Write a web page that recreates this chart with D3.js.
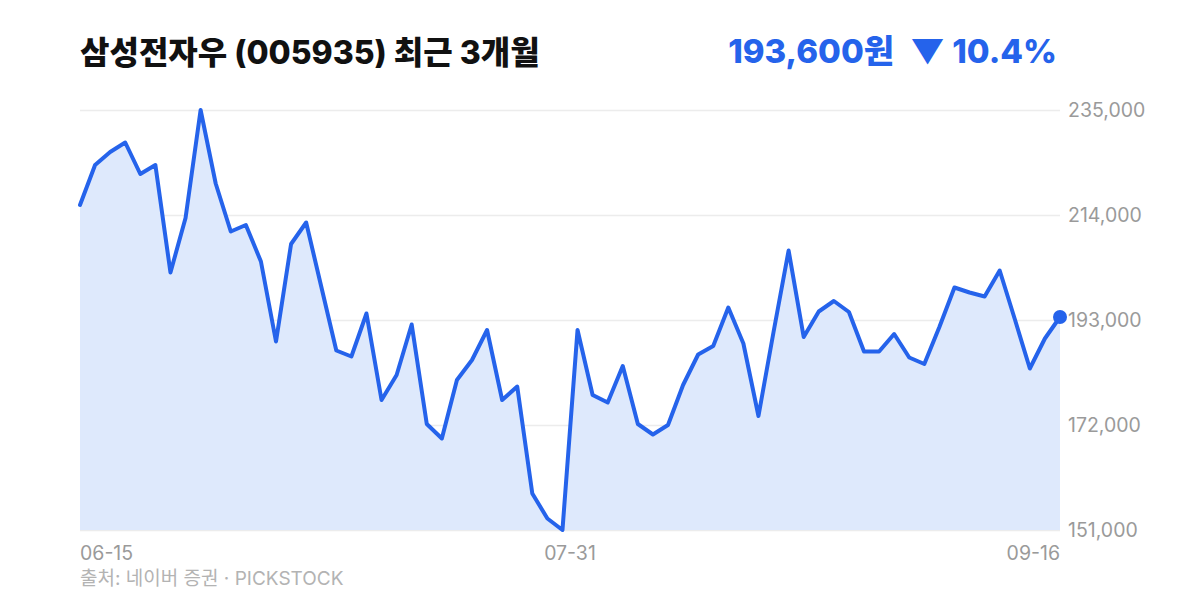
<!DOCTYPE html>
<html>
<head>
<meta charset="utf-8">
<script src="https://cdn.jsdelivr.net/npm/d3@7"></script>
<style>
  body { margin: 0; background: #fff; }
</style>
</head>
<body>
<svg id="chart" width="1200" height="600"></svg>
<script>
// 종가 (원), 06-15 ~ 09-16 거래일
const prices = [
  216000, 224000, 226600, 228500, 222200, 224000, 202500, 213400, 235000, 220300,
  210700, 212000, 204700, 188700, 208200, 212500, 199700, 186900, 185700, 194300,
  177000, 182000, 192100, 172200, 169300, 181000, 185000, 191000, 177000, 179700,
  158300, 153300, 151000, 191000, 178000, 176500, 183800, 172200, 170100, 172000,
  180000, 186100, 187800, 195500, 188300, 173800, 190600, 206900, 189600, 194700,
  196800, 194600, 186700, 186700, 190200, 185500, 184200, 191600, 199500, 198500,
  197700, 202900, 193200, 183300, 189300, 193600
];

// x축 라벨 (처음, 가운데, 끝)
const xTickLabels = ["06-15", "07-31", "09-16"];
const xTickFrac = [0, 0.5, 1];

// y축 눈금
const yTicks = [151000, 172000, 193000, 214000, 235000];

const title = "삼성전자우 (005935) 최근 3개월";
const source = "출처: 네이버 증권 · PICKSTOCK";

const blue = "#2563eb";
const font = "Inter, 'Noto Sans CJK KR', sans-serif";

// 그래프 영역
const margin = { left: 80, right: 140, top: 110, bottom: 70 };
const W = 1200, H = 600;

const svg = d3.select("#chart").attr("font-family", font);

const x = d3.scaleLinear()
  .domain([0, prices.length - 1])
  .range([margin.left, W - margin.right]);

const y = d3.scaleLinear()
  .domain([d3.min(yTicks), d3.max(yTicks)])
  .range([H - margin.bottom, margin.top]);

// 그리드
svg.append("g")
  .attr("transform", "translate(" + margin.left + ",0)")
  .call(d3.axisLeft(y).tickValues(yTicks).tickSize(-(W - margin.right - margin.left)).tickFormat(""))
  .call(g => g.select(".domain").remove())
  .selectAll("line")
  .attr("stroke", "#ececec")
  .attr("stroke-width", 1.5);

// 영역
const area = d3.area()
  .x((d, i) => x(i))
  .y0(y(d3.min(yTicks)))
  .y1(d => y(d));

svg.append("path")
  .datum(prices)
  .attr("d", area)
  .attr("fill", "#dee9fc");

// 선
const line = d3.line()
  .x((d, i) => x(i))
  .y(d => y(d));

svg.append("path")
  .datum(prices)
  .attr("d", line)
  .attr("fill", "none")
  .attr("stroke", blue)
  .attr("stroke-width", 4)
  .attr("stroke-linejoin", "round")
  .attr("stroke-linecap", "round");

// 마지막 점
const last = prices.length - 1;
svg.append("circle")
  .attr("cx", x(last))
  .attr("cy", y(prices[last]))
  .attr("r", 7)
  .attr("fill", blue);

// y축 라벨
svg.append("g")
  .attr("transform", "translate(" + (W - margin.right) + ",0)")
  .call(d3.axisRight(y).tickValues(yTicks).tickSize(0).tickPadding(8).tickFormat(d3.format(",")))
  .call(g => g.select(".domain").remove())
  .call(g => g.attr("font-family", font))
  .selectAll("text")
  .attr("font-size", 19.5)
  .attr("fill", "#9a9a9a");

// x축 라벨
svg.append("g")
  .selectAll("text")
  .data(xTickLabels)
  .enter()
  .append("text")
  .attr("x", (d, i) => x(xTickFrac[i] * last))
  .attr("y", 560)
  .attr("text-anchor", (d, i) => i == 0 ? "start" : (i == xTickLabels.length - 1 ? "end" : "middle"))
  .attr("font-size", 19.5)
  .attr("fill", "#9a9a9a")
  .text(d => d);

// 제목
svg.append("text")
  .attr("x", 80)
  .attr("y", 64)
  .attr("font-size", 32)
  .attr("font-weight", 800)
  .attr("fill", "#111")
  .text(title);

// 현재가 / 등락률
const change = (prices[last] - prices[0]) / prices[0] * 100;
const t = svg.append("text")
  .attr("x", 1057)
  .attr("y", 63)
  .attr("text-anchor", "end")
  .attr("font-size", 33)
  .attr("font-weight", 800)
  .attr("fill", blue);
t.append("tspan").text(d3.format(",")(prices[last]) + "원");
t.append("tspan").attr("dx", 16).text((change < 0 ? "▼ " : "▲ ") + Math.abs(change).toFixed(1) + "%");

// 출처
svg.append("text")
  .attr("x", 80)
  .attr("y", 585)
  .attr("font-size", 19)
  .attr("fill", "#b3b3b3")
  .text(source);
</script>
</body>
</html>
